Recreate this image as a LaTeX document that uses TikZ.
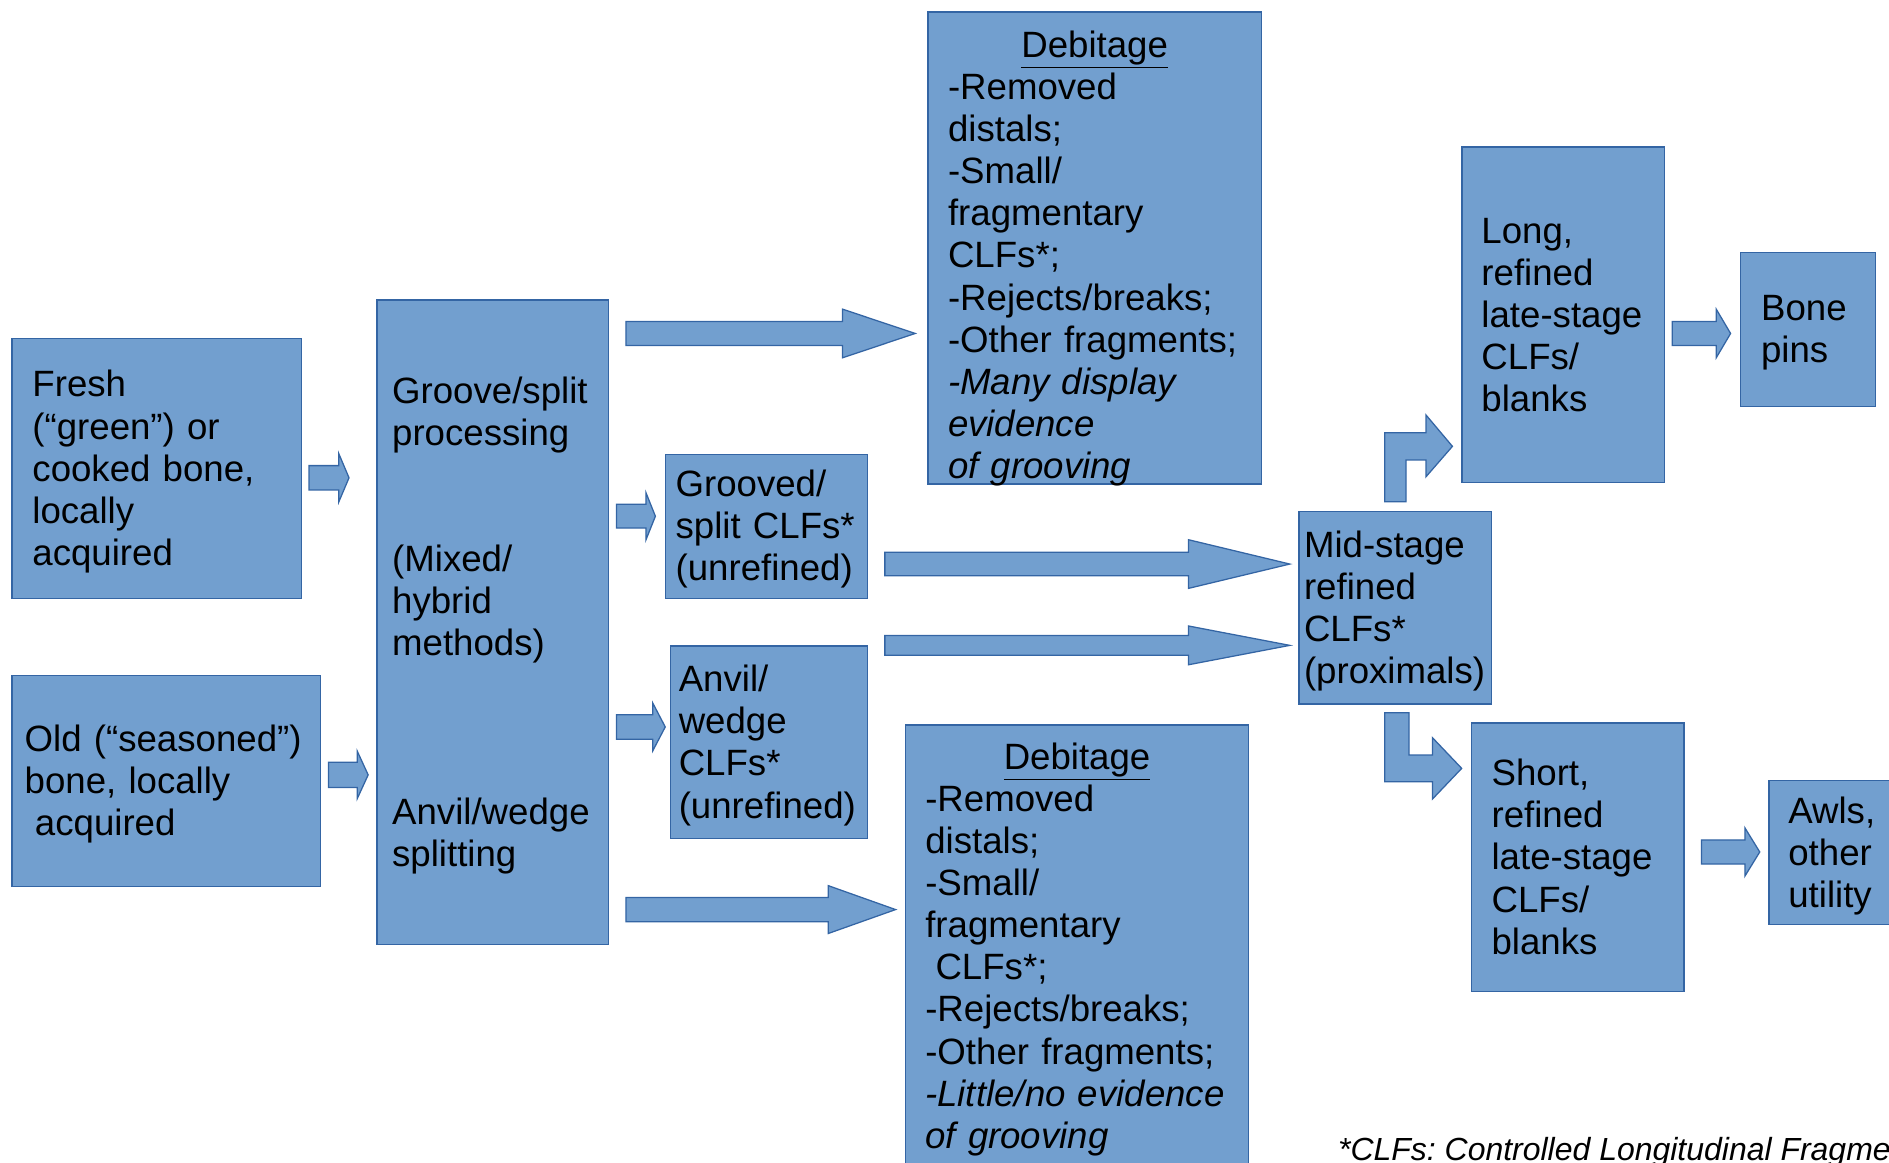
\documentclass[tikz,border=0pt]{standalone}
\usepackage{fontspec}
\setmainfont{Liberation Sans}
\usetikzlibrary{calc}
\definecolor{boxfill}{HTML}{729FCF}
\definecolor{boxline}{HTML}{3465A4}
\newcommand\boxfont{\fontsize{17.3pt}{19.9pt}\selectfont}
\newcommand\notefont{\fontsize{15.1pt}{17.4pt}\selectfont}
% block arrow: tail, tip, half shaft, half head, head length
\newcommand\blockarrow[5]{%
  \draw[arrowshape] ($(#1)+(0,-#3)$) -- ($(#2)+(-#5,-#3)$) -- ($(#2)+(-#5,-#4)$) -- (#2)
    -- ($(#2)+(-#5,#4)$) -- ($(#2)+(-#5,#3)$) -- ($(#1)+(0,#3)$) -- cycle;}
\hyphenpenalty=10000
\exhyphenpenalty=10000
\frenchspacing
\tikzset{
  box/.style n args={4}{draw=boxline, fill=boxfill, line width=0.6pt, anchor=north west,
    align=left, font=\boxfont, inner ysep=0pt, inner xsep=#1, text width=#2,
    text height=#3, text depth=#4},
  arrowshape/.style={draw=boxline, fill=boxfill, line width=0.6pt}
}
\begin{document}
\begin{tikzpicture}[x=0.2mm,y=-0.2mm]
\path[use as bounding box, clip] (0,0) rectangle (1568,964.6);

% boxes
\node[box={3.38mm}{41.28mm}{9.66mm}{33.46mm}] (fresh) at (9.5,280.7)
  {Fresh\\(“green”) or\\cooked bone,\\locally\\acquired};
\node[box={2.1mm}{46.96mm}{12.62mm}{22.44mm}] (old) at (9.5,560)
  {Old~(“seasoned”)\\bone, locally\\\hspace*{0.28em}acquired};
\node[box={2.52mm}{33.38mm}{17.09mm}{89.83mm}] (groove) at (312.4,248.6)
  {Groove/split\\processing\\[2\baselineskip](Mixed/\\hybrid\\methods)\\[3\baselineskip]Anvil/wedge\\splitting};
\node[box={1.7mm}{30.1mm}{7.05mm}{16.87mm}] (grooved) at (551.8,376.5)
  {Grooved/\\split~CLFs*\\(unrefined)};
\node[box={1.4mm}{29.88mm}{7.6mm}{24.4mm}] (anvil) at (555.9,535.6)
  {Anvil/\\wedge\\CLFs*\\(unrefined)};
\node[box={3.34mm}{48.68mm}{7.5mm}{70.84mm}] (debtop) at (769.7,9.5)
  {\makebox[\linewidth]{\underline{Debitage}}\\-Removed\\distals;\\-Small/\\fragmentary\\CLFs*;\\-Rejects/breaks;\\-Other~fragments;\\\textit{-Many~display}\\\textit{evidence}\\\textit{of~grooving}};
\node[box={3.26mm}{50.4mm}{7.32mm}{68.68mm}] (debbot) at (751.2,601.3)
  {\makebox[\linewidth]{\underline{Debitage}}\\-Removed\\distals;\\-Small/\\fragmentary\\\hspace*{0.28em}CLFs*;\\-Rejects/breaks;\\-Other~fragments;\\\textit{-Little/no~evidence}\\\textit{of~grooving}};
\node[box={0.84mm}{30.22mm}{7.56mm}{24.36mm}] (mid) at (1077.7,424.2)
  {Mid-stage\\refined\\CLFs*\\(proximals)};
\node[box={3.22mm}{27.16mm}{15.96mm}{39.76mm}] (long) at (1213.1,121.6)
  {Long,\\refined\\late-stage\\CLFs/\\blanks};
\node[box={3.48mm}{15.54mm}{11.36mm}{14.18mm}] (pins) at (1443.9,208.9)
  {Bone\\pins};
\node[box={3.28mm}{28.64mm}{10.4mm}{34.2mm}] (short) at (1221.2,599.6)
  {Short,\\refined\\late-stage\\CLFs/\\blanks};
\node[box={3.22mm}{15.56mm}{7.04mm}{16.86mm}] (awls) at (1467.8,647.5)
  {Awls,\\other\\utility};

\node[anchor=base west, inner sep=0pt, font=\notefont\itshape] (note) at (1110.4,963.5)
  {*CLFs: Controlled Longitudinal Fragme};

% arrow ends
\coordinate (fresh-out) at (256.5,396.6);
\coordinate (groove-in1) at (289.7,396.6);
\coordinate (old-out) at (272.7,643.2);
\coordinate (groove-in2) at (305.6,643.2);
\coordinate (groove-out1) at (519.6,276.8);
\coordinate (debtop-in) at (759.7,276.8);
\coordinate (groove-out2) at (511.8,428.5);
\coordinate (grooved-in) at (544,428.5);
\coordinate (groove-out3) at (511.8,603.4);
\coordinate (anvil-in) at (552.2,603.4);
\coordinate (groove-out4) at (519.6,755);
\coordinate (debbot-in) at (743.4,755);
\coordinate (grooved-out) at (734.5,468.2);
\coordinate (mid-in1) at (1070.6,468.2);
\coordinate (anvil-out) at (734.5,535.7);
\coordinate (mid-in2) at (1070.6,535.7);
\coordinate (long-out) at (1388.1,276.8);
\coordinate (pins-in) at (1436.5,276.8);
\coordinate (short-out) at (1412.3,707.2);
\coordinate (awls-in) at (1460.7,707.2);

\foreach \from/\to/\s/\h/\l in {fresh-out/groove-in1/10.1/20.1/8.5,
  old-out/groove-in2/10.45/19.8/9.1, groove-out1/debtop-in/10/20.2/60.4,
  groove-out2/grooved-in/9.85/19.5/7.8, groove-out3/anvil-in/10.2/19.9/10.4,
  groove-out4/debbot-in/10.05/19.9/56, grooved-out/mid-in1/9.8/20.2/84.1,
  anvil-out/mid-in2/8.15/16.1/84.1, long-out/pins-in/10/20.15/11.9,
  short-out/awls-in/10/20/12.3}
{
    \blockarrow{\from}{\to}{\s}{\h}{\l}
}

% bent arrows out of the mid-stage box
\draw[arrowshape] (1149.4,416.4) -- (1149.4,359.2) -- (1183.7,359.2) -- (1183.7,344.5)
  -- (1205.6,370.5) -- (1183.7,395.7) -- (1183.7,381.8) -- (1167.1,381.8) -- (1167.1,416.4) -- cycle;
\draw[arrowshape] (1149.4,591.6) -- (1169.6,591.6) -- (1169.6,626.7) -- (1189,626.7) -- (1189,612.3)
  -- (1213.3,637.8) -- (1189,663.3) -- (1189,648.9) -- (1149.4,648.9) -- cycle;
\end{tikzpicture}
\end{document}
